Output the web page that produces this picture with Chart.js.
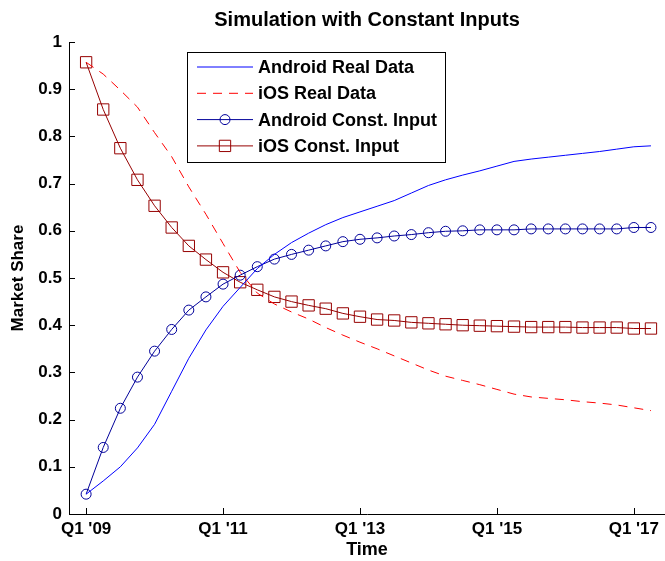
<!DOCTYPE html>
<html lang="en">
<head>
    <meta charset="UTF-8">
    <title>Simulation with Constant Inputs</title>
    <script src="https://cdn.jsdelivr.net/npm/chart.js"></script>
    <style>
        html, body {
            margin: 0;
            padding: 0;
            background: #fff;
        }
        #wrap {
            width: 665px;
            height: 561px;
        }
    </style>
</head>
<body>
    <div id="wrap">
        <canvas id="simChart" width="665" height="561"></canvas>
    </div>

    <script>
        // quarter index 0 = Q1 '09, one value per quarter up to Q2 '17
        const androidReal = [0.042, 0.070, 0.100, 0.140, 0.190, 0.260, 0.330, 0.390, 0.440, 0.480,
            0.520, 0.550, 0.575, 0.595, 0.613, 0.628, 0.640, 0.652, 0.664, 0.680,
            0.696, 0.708, 0.718, 0.727, 0.737, 0.747, 0.752, 0.756, 0.760, 0.764,
            0.768, 0.773, 0.778, 0.780];
        const iosReal = [0.957, 0.932, 0.898, 0.862, 0.808, 0.757, 0.693, 0.635, 0.573, 0.512,
            0.468, 0.445, 0.428, 0.413, 0.395, 0.379, 0.364, 0.350, 0.335, 0.320,
            0.305, 0.292, 0.283, 0.274, 0.264, 0.254, 0.248, 0.245, 0.242, 0.238,
            0.235, 0.231, 0.225, 0.219];
        const androidConst = [0.042, 0.141, 0.224, 0.290, 0.345, 0.391, 0.432, 0.460, 0.487, 0.506,
            0.524, 0.540, 0.550, 0.559, 0.568, 0.577, 0.582, 0.585, 0.589, 0.592,
            0.596, 0.599, 0.600, 0.602, 0.602, 0.602, 0.604, 0.604, 0.604, 0.604,
            0.604, 0.604, 0.607, 0.607];
        const iosConst = [0.957, 0.857, 0.775, 0.708, 0.653, 0.607, 0.568, 0.539, 0.512, 0.491,
            0.475, 0.460, 0.450, 0.442, 0.435, 0.425, 0.418, 0.412, 0.410, 0.406,
            0.404, 0.402, 0.400, 0.399, 0.398, 0.397, 0.396, 0.396, 0.396, 0.395,
            0.395, 0.395, 0.393, 0.393];

        const xTickAt = [0, 8, 16, 24, 32];
        const xTickLabels = ["Q1 '09", "Q1 '11", "Q1 '13", "Q1 '15", "Q1 '17"];

        const FONT = "'Liberation Sans', Arial, Helvetica, sans-serif";
        const toPoints = arr => arr.map((v, i) => ({ x: i, y: v }));

        // MATLAB style ticks pointing into the plot
        const innerTicks = {
            id: 'innerTicks',
            afterDatasetsDraw(chart) {
                const { ctx, chartArea, scales } = chart;
                ctx.save();
                ctx.strokeStyle = '#000';
                ctx.lineWidth = 1;
                ctx.beginPath();
                scales.y.ticks.forEach(t => {
                    const y = Math.round(scales.y.getPixelForValue(t.value)) + 0.5;
                    ctx.moveTo(chartArea.left, y);
                    ctx.lineTo(chartArea.left + 6, y);
                });
                scales.x.ticks.forEach(t => {
                    const x = Math.round(scales.x.getPixelForValue(t.value)) + 0.5;
                    ctx.moveTo(x, chartArea.bottom);
                    ctx.lineTo(x, chartArea.bottom - 6);
                });
                ctx.stroke();
                ctx.restore();
            }
        };

        // boxed legend inside the plot
        const boxLegend = {
            id: 'boxLegend',
            afterDraw(chart) {
                const ctx = chart.ctx;
                const bx = 187, by = 52, bw = 258, bh = 110;
                ctx.save();
                ctx.fillStyle = '#fff';
                ctx.fillRect(bx, by, bw, bh);
                ctx.strokeStyle = '#000';
                ctx.lineWidth = 1;
                ctx.strokeRect(bx + 0.5, by + 0.5, bw, bh);
                chart.data.datasets.forEach((ds, i) => {
                    const y = by + 15 + i * 26.3;
                    ctx.strokeStyle = ds.borderColor;
                    ctx.lineWidth = 1;
                    ctx.setLineDash(ds.borderDash || []);
                    ctx.beginPath();
                    ctx.moveTo(bx + 10, y);
                    ctx.lineTo(bx + 66, y);
                    ctx.stroke();
                    ctx.setLineDash([]);
                    if (ds.pointRadius > 0) {
                        ctx.fillStyle = 'rgba(0,0,0,0)';
                        ctx.strokeStyle = ds.pointBorderColor;
                        Chart.helpers.drawPoint(ctx, {
                            pointStyle: ds.pointStyle,
                            radius: ds.pointRadius,
                            borderWidth: 1
                        }, bx + 38, y);
                    }
                    ctx.fillStyle = '#000';
                    ctx.font = 'bold 18px ' + FONT;
                    ctx.textBaseline = 'middle';
                    ctx.fillText(ds.label, bx + 71, y + 1);
                });
                ctx.restore();
            }
        };

        const ctx = document.getElementById('simChart').getContext('2d');
        const simChart = new Chart(ctx, {
            type: 'line',
            data: {
                datasets: [
                    {
                        label: 'Android Real Data',
                        data: toPoints(androidReal),
                        borderColor: '#0000ff',
                        borderWidth: 1,
                        pointRadius: 0,
                        tension: 0
                    },
                    {
                        label: 'iOS Real Data',
                        data: toPoints(iosReal),
                        borderColor: '#ff0000',
                        borderWidth: 1,
                        borderDash: [9, 7],
                        pointRadius: 0,
                        tension: 0
                    },
                    {
                        label: 'Android Const. Input',
                        data: toPoints(androidConst),
                        borderColor: '#00009a',
                        borderWidth: 1,
                        pointStyle: 'circle',
                        pointRadius: 5,
                        pointBorderWidth: 1,
                        pointBorderColor: '#00009a',
                        pointBackgroundColor: 'rgba(0,0,0,0)',
                        tension: 0
                    },
                    {
                        label: 'iOS Const. Input',
                        data: toPoints(iosConst),
                        borderColor: '#960000',
                        borderWidth: 1,
                        pointStyle: 'rect',
                        pointRadius: 8,
                        pointBorderWidth: 1,
                        pointBorderColor: '#960000',
                        pointBackgroundColor: 'rgba(0,0,0,0)',
                        tension: 0
                    }
                ]
            },
            options: {
                responsive: false,
                animation: false,
                events: [],
                clip: false,
                layout: { padding: 0, autoPadding: false },
                plugins: {
                    legend: { display: false },
                    tooltip: { enabled: false },
                    title: {
                        display: true,
                        text: 'Simulation with Constant Inputs',
                        color: '#000',
                        fullSize: false,
                        font: { family: FONT, size: 20, weight: 'bold', lineHeight: 1.2 },
                        padding: { top: 8, bottom: 10 }
                    }
                },
                scales: {
                    x: {
                        type: 'linear',
                        min: -1,
                        max: 33.82,
                        grid: { display: false, drawTicks: false },
                        border: { display: true, color: '#000', width: 1 },
                        afterBuildTicks: scale => {
                            scale.ticks = xTickAt.map(v => ({ value: v }));
                        },
                        afterFit: scale => {
                            scale.height = 47;
                            scale.paddingLeft = 0;
                            scale.paddingRight = 0;
                        },
                        ticks: {
                            color: '#000',
                            padding: 5,
                            maxRotation: 0,
                            font: { family: FONT, size: 17, weight: 'bold' },
                            callback: v => xTickLabels[xTickAt.indexOf(v)]
                        },
                        title: {
                            display: true,
                            text: 'Time',
                            color: '#000',
                            font: { family: FONT, size: 18, weight: 'bold', lineHeight: 1.2 },
                            padding: { top: 0, bottom: 0 }
                        }
                    },
                    y: {
                        min: 0,
                        max: 1,
                        grid: { display: false, drawTicks: false },
                        border: { display: true, color: '#000', width: 1 },
                        afterFit: scale => {
                            scale.width = 69;
                            scale.paddingTop = 0;
                            scale.paddingBottom = 0;
                        },
                        ticks: {
                            stepSize: 0.1,
                            color: '#000',
                            padding: 7,
                            font: { family: FONT, size: 17, weight: 'bold' },
                            callback: v => String(Number(v.toFixed(1)))
                        },
                        title: {
                            display: true,
                            text: 'Market Share',
                            color: '#000',
                            font: { family: FONT, size: 17, weight: 'bold', lineHeight: 1.2 },
                            padding: { top: 8, bottom: 0 }
                        }
                    }
                }
            },
            plugins: [innerTicks, boxLegend]
        });
    </script>
</body>
</html>
